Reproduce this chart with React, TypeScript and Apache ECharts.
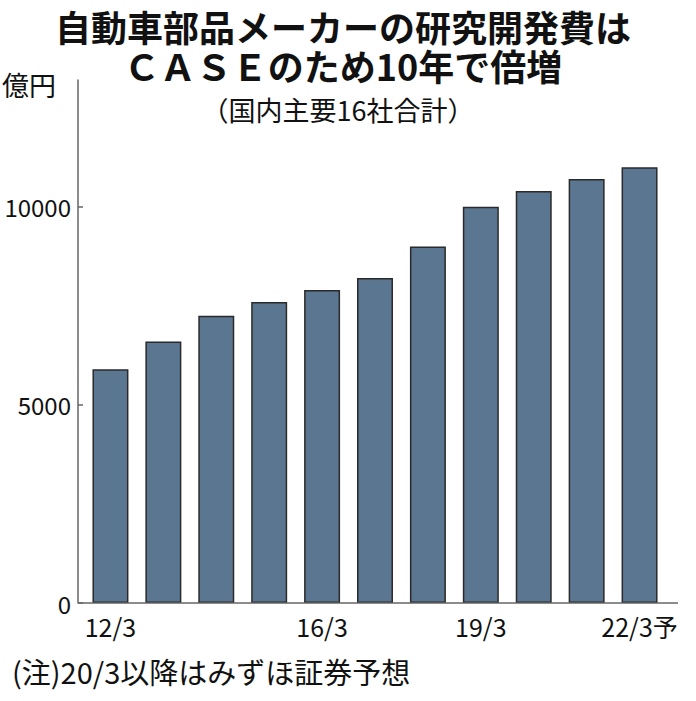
import React, { useEffect, useRef } from "react";
import * as echarts from "echarts";

const categories = ["12/3", "13/3", "14/3", "15/3", "16/3", "17/3", "18/3", "19/3", "20/3", "21/3", "22/3予"];
const values = [5900, 6600, 7250, 7600, 7900, 8200, 9000, 10000, 10400, 10700, 11000];
const shownLabels = [0, 4, 7, 10];
const yTicks = [0, 5000, 10000];

const titleLines = ["自動車部品メーカーの研究開発費は", "ＣＡＳＥのため10年で倍増"];
const subtitle = "（国内主要16社合計）";
const unit = "億円";
const note = "(注)20/3以降はみずほ証券予想";

const FONT = "'Noto Sans CJK JP', 'Noto Sans', sans-serif";

export default function App() {
  const ref = useRef<HTMLDivElement>(null);
  useEffect(() => {
    if (!ref.current) return;
    const chart = echarts.init(ref.current, null, { renderer: "svg" });
    chart.setOption({
      animation: false,
      backgroundColor: "#ffffff",
      textStyle: { fontFamily: FONT },
      grid: { left: 84, right: 30, top: 80, bottom: 98, containLabel: false, outerBoundsMode: "none" },
      xAxis: {
        type: "category",
        data: categories,
        axisLine: { show: false },
        axisTick: { show: false },
        axisLabel: {
          interval: (i: number) => shownLabels.includes(i),
          color: "#111",
          fontSize: 25,
          margin: 10,
          fontFamily: FONT,
        },
      },
      yAxis: {
        type: "value",
        min: 0,
        max: 13200,
        offset: 6,
        splitLine: { show: false },
        axisLine: { show: true, lineStyle: { color: "#666", width: 1.5 } },
        axisTick: {
          show: true,
          inside: true,
          length: 5,
          customValues: yTicks,
          lineStyle: { color: "#666", width: 1.5 },
        },
        axisLabel: {
          customValues: yTicks,
          formatter: (v: number) => String(v),
          color: "#111",
          fontSize: 24,
          margin: 7,
          fontFamily: FONT,
        },
      },
      series: [
        {
          type: "bar",
          data: values,
          barCategoryGap: "32%",
          itemStyle: { color: "#5b7691", borderColor: "#2a2a2a", borderWidth: 1.5 },
        },
      ],
      graphic: [
        {
          type: "line",
          shape: { x1: 78, y1: 603, x2: 678, y2: 603 },
          style: { stroke: "#666", lineWidth: 1.5 },
          z: 10,
        },
        {
          type: "text",
          x: 343,
          y: 45.5,
          style: {
            text: titleLines.join("\n"),
            fontSize: 36,
            lineHeight: 39,
            fontWeight: "bold",
            fontFamily: FONT,
            fill: "#111",
            align: "center",
            verticalAlign: "middle",
          },
        },
        {
          type: "text",
          x: 338,
          y: 109,
          style: {
            text: subtitle,
            fontSize: 27,
            lineHeight: 27,
            fontFamily: FONT,
            fill: "#111",
            align: "center",
            verticalAlign: "middle",
          },
        },
        {
          type: "text",
          x: 2,
          y: 84,
          style: {
            text: unit,
            fontSize: 27,
            fontFamily: FONT,
            fill: "#111",
            align: "left",
            verticalAlign: "middle",
          },
        },
        {
          type: "text",
          x: 12,
          y: 671,
          style: {
            text: note,
            fontSize: 29,
            fontFamily: FONT,
            fill: "#111",
            align: "left",
            verticalAlign: "middle",
          },
        },
      ],
    });
    return () => chart.dispose();
  }, []);
  return <div ref={ref} style={{ width: 696, height: 701, position: "absolute", left: 0, top: 0 }} />;
}
